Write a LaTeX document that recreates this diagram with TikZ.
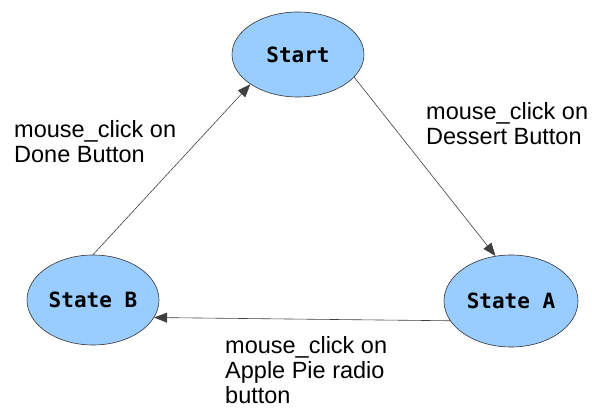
\documentclass[tikz,border=0pt]{standalone}
\usepackage{fontspec}
\setmainfont{Liberation Sans}
\newfontfamily\statefont{DejaVu Sans Mono}
\usetikzlibrary{arrows.meta,shapes.geometric}
\begin{document}
\begin{tikzpicture}[x=1pt,y=-1pt,
  state/.style={draw=black!80, line width=0.6pt, fill={rgb,255:red,153;green,204;blue,255},
    ellipse, inner sep=0pt, font=\statefont\bfseries\fontsize{21}{24}\selectfont},
  trans/.style={draw=black!75, line width=0.6pt, -{Triangle[length=13pt,width=10pt]}},
  lab/.style={align=left, anchor=north west, inner sep=0pt,
    font=\fontsize{23.5}{25}\selectfont}]
\useasboundingbox (0,0) rectangle (592,411);
\node[state, minimum width=132pt, minimum height=85pt] (start) at (298,54.5) {Start};
\node[state, minimum width=132pt, minimum height=90pt] (b) at (93,300) {State B};
\node[state, minimum width=134pt, minimum height=92pt] (a) at (511,301) {State A};
\draw[trans] (start.-22.7) -- (a.109);
\draw[trans] (a.198) -- (b.-16.7);
\draw[trans] (b.90) -- (start.-148);
\node[lab] (l1) at (426,102) {mouse\_click on\\Dessert Button};
\node[lab] (l2) at (14,120) {mouse\_click on\\Done Button};
\node[lab] (l3) at (225,336) {mouse\_click on\\Apple Pie radio\\button};
\end{tikzpicture}
\end{document}
